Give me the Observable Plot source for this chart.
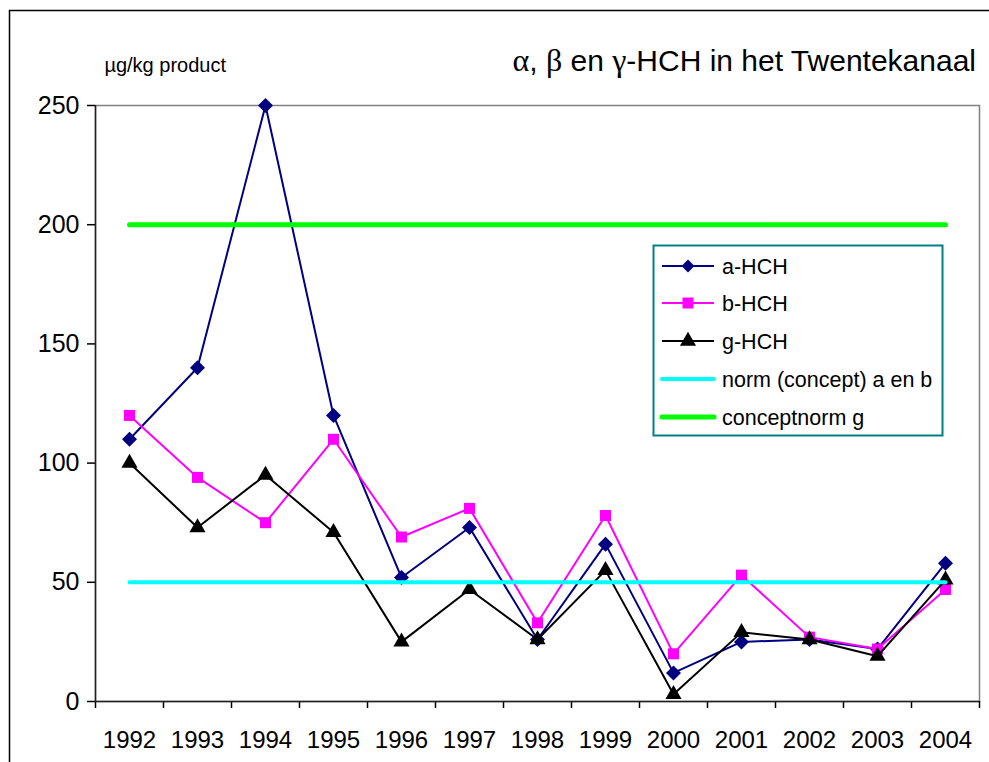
<!DOCTYPE html>
<html>
<head>
<meta charset="utf-8">
<script src="https://cdn.jsdelivr.net/npm/d3@7"></script>
<script src="https://cdn.jsdelivr.net/npm/@observablehq/plot@0.6"></script>
<style>
  html, body { margin: 0; padding: 0; background: white; }
  #chart { width: 989px; height: 762px; overflow: hidden; }
</style>
</head>
<body>
<div id="chart"></div>
<script>
const years = [1992, 1993, 1994, 1995, 1996, 1997, 1998, 1999, 2000, 2001, 2002, 2003, 2004];
const aHCH = [110, 140, 250, 120, 52, 73, 26, 66, 12, 25, 26, 22, 58];
const bHCH = [120, 94, 75, 110, 69, 81, 33, 78, 20, 53, 27, 22, 47];
const gHCH = [100, 73, 95, 71, 25, 47, 26, 55, 3, 29, 26, 19, 51];
const normAB = 50;
const normG = 200;
const yTicks = [0, 50, 100, 150, 200, 250];
const seriesNames = ["a-HCH", "b-HCH", "g-HCH", "norm (concept) a en b", "conceptnorm g"];
const titleParts = [["α", true], [", ", false], ["β", true], [" en ", false], ["γ", true], ["-HCH in het Twentekanaal", false]];
const unitText = "µg/kg product";

const FONT = "'Liberation Sans', Arial, Helvetica, sans-serif";
const SERIF = "'Liberation Serif', 'Times New Roman', serif";
const colA = "#000080", colB = "#FF00FF", colG = "#000000", colNAB = "#00FFFF", colNG = "#00FF00";

const toRows = (vals) => years.map((yr, i) => ({year: yr, value: vals[i]}));
const rowsA = toRows(aHCH), rowsB = toRows(bHCH), rowsG = toRows(gHCH);
const rowsNAB = years.map(yr => ({year: yr, value: normAB}));
const rowsNG = years.map(yr => ({year: yr, value: normG}));
const bounds = years.map(y => y - 0.5).concat([years[years.length - 1] + 0.5]);

const chart = Plot.plot({
  width: 989,
  height: 762,
  marginLeft: 95,
  marginRight: 10,
  marginTop: 105,
  marginBottom: 61,
  style: {fontFamily: FONT, background: "white", color: "black"},
  x: {domain: [bounds[0], bounds[bounds.length - 1]]},
  y: {domain: [yTicks[0], yTicks[yTicks.length - 1]]},
  marks: [
    Plot.frame({stroke: "#808080", strokeWidth: 1.5}),
    Plot.axisY({ticks: yTicks, tickSize: 8, tickPadding: 8, fontSize: 25, label: null, tickFormat: d => String(d), strokeWidth: 1.5}),
    Plot.axisX({ticks: bounds, tickSize: 7, tickFormat: () => "", label: null, strokeWidth: 1.5}),
    Plot.axisX({ticks: years, tickSize: 0, tickPadding: 29, fontSize: 24, tickFormat: d => String(d), label: null}),
    Plot.ruleX([bounds[0]], {stroke: "#202020", strokeWidth: 1.5}),
    Plot.ruleY([yTicks[0]], {stroke: "#202020", strokeWidth: 1.5}),

    Plot.line(rowsA, {x: "year", y: "value", stroke: colA, strokeWidth: 2}),
    Plot.dot(rowsA, {x: "year", y: "value", symbol: "diamond2", r: 5.8, fill: colA, stroke: colA}),
    Plot.line(rowsB, {x: "year", y: "value", stroke: colB, strokeWidth: 2}),
    Plot.dot(rowsB, {x: "year", y: "value", symbol: "square", r: 6.2, fill: colB, stroke: "none"}),
    Plot.line(rowsG, {x: "year", y: "value", stroke: colG, strokeWidth: 2}),
    Plot.dot(rowsG, {x: "year", y: "value", symbol: "triangle", r: 6, fill: colG, stroke: "none"}),

    Plot.line(rowsNAB, {x: "year", y: "value", stroke: colNAB, strokeWidth: 4}),
    Plot.line(rowsNG, {x: "year", y: "value", stroke: colNG, strokeWidth: 5, strokeLinecap: "round"})
  ]
});

document.getElementById("chart").appendChild(chart);

const svg = d3.select(chart);

// outer chart-area border (extends past the image edges)
svg.append("rect")
  .attr("x", 9.5).attr("y", 10.5).attr("width", 1100).attr("height", 900)
  .attr("fill", "none").attr("stroke", "black").attr("stroke-width", 1.5);

// title and unit label
const t = svg.append("text")
  .attr("x", 976).attr("y", 71).attr("text-anchor", "end")
  .attr("font-family", FONT).attr("font-size", 30).attr("fill", "black");
titleParts.forEach(([s, greek]) => {
  const sp = t.append("tspan").text(s);
  if (greek) sp.attr("font-family", SERIF).attr("font-size", 32);
});
svg.append("text")
  .attr("x", 226).attr("y", 72).attr("text-anchor", "end")
  .attr("font-family", FONT).attr("font-size", 20).attr("fill", "black")
  .text(unitText);

// legend
const lg = svg.append("g");
lg.append("rect")
  .attr("x", 653.5).attr("y", 245.5).attr("width", 289).attr("height", 190)
  .attr("fill", "white").attr("stroke", "#008080").attr("stroke-width", 2);
const legendItems = [
  {name: seriesNames[0], color: colA, width: 2, symbol: d3.symbolDiamond2, size: Math.PI * 5.8 * 5.8},
  {name: seriesNames[1], color: colB, width: 2, symbol: d3.symbolSquare, size: Math.PI * 6.2 * 6.2},
  {name: seriesNames[2], color: colG, width: 2, symbol: d3.symbolTriangle, size: Math.PI * 6 * 6},
  {name: seriesNames[3], color: colNAB, width: 4, symbol: null},
  {name: seriesNames[4], color: colNG, width: 5, symbol: null}
];
const rowY = [266, 303, 341, 379, 417];
legendItems.forEach((it, i) => {
  const y = rowY[i];
  lg.append("line")
    .attr("x1", 662).attr("x2", 714).attr("y1", y).attr("y2", y)
    .attr("stroke", it.color).attr("stroke-width", it.width)
    .attr("stroke-linecap", it.width > 3 ? "round" : "butt");
  if (it.symbol) {
    lg.append("path")
      .attr("d", d3.symbol(it.symbol, it.size)())
      .attr("transform", `translate(688,${y})`)
      .attr("fill", it.color);
  }
  lg.append("text")
    .attr("x", 722).attr("y", y).attr("dy", "0.35em").attr("text-anchor", "start")
    .attr("font-family", FONT).attr("font-size", 21.5).attr("fill", "black")
    .text(it.name);
});
</script>
</body>
</html>
